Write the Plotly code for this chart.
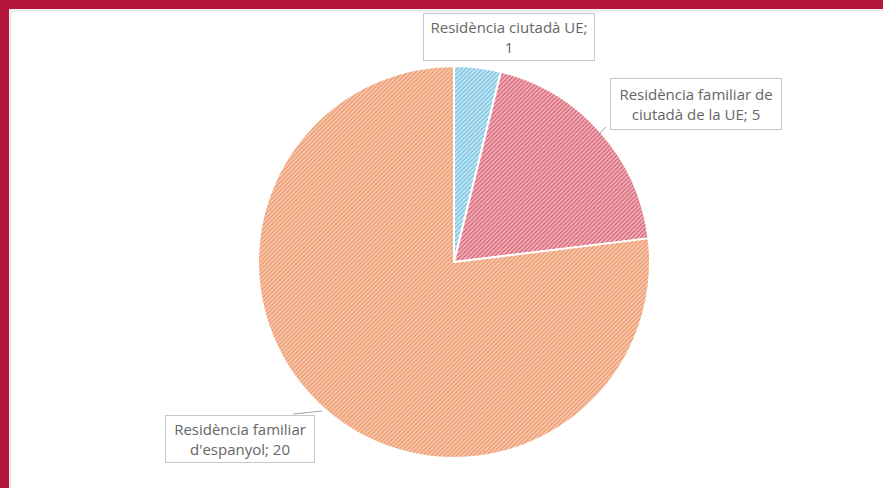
import plotly.graph_objects as go

categories = ["Residència ciutadà UE", "Residència familiar de ciutadà de la UE", "Residència familiar d'espanyol"]
values = [1, 5, 20]
label_texts = ["Residència ciutadà UE;<br>1", "Residència familiar de<br>ciutadà de la UE; 5", "Residència familiar<br>d'espanyol; 20"]

fg_colors = ["#6fbedf", "#d75a6e", "#ec9464"]
bg_colors = ["#c8e8f5", "#f0b5bd", "#f7c9b0"]

W, H = 883, 488

def px(x):
    return x / W

def py(y):
    return 1 - y / H

fig = go.Figure()
fig.add_trace(go.Pie(
    labels=categories,
    values=values,
    sort=False,
    direction="clockwise",
    rotation=0,
    textinfo="none",
    hoverinfo="label+value",
    marker=dict(
        colors=bg_colors,
        line=dict(color="white", width=2),
        pattern=dict(shape="/", fgcolor=fg_colors, bgcolor=bg_colors, size=3, solidity=0.4),
    ),
    domain=dict(x=[px(258), px(650)], y=[py(458), py(66)]),
    showlegend=False,
))

shapes = [
    # faint inner shadow
    dict(type="line", xref="paper", yref="paper", x0=px(9), x1=1, y0=py(10.5), y1=py(10.5),
         line=dict(color="#e6e6e6", width=2), layer="above"),
    dict(type="line", xref="paper", yref="paper", x0=px(10.5), x1=px(10.5), y0=0, y1=py(9),
         line=dict(color="#e6e6e6", width=2), layer="above"),
    dict(type="rect", xref="paper", yref="paper", x0=0, x1=1, y0=py(9), y1=1,
         fillcolor="#b5173b", line=dict(width=0), layer="above"),
    dict(type="rect", xref="paper", yref="paper", x0=0, x1=px(9), y0=0, y1=1,
         fillcolor="#b5173b", line=dict(width=0), layer="above"),
    # leader lines
    dict(type="line", xref="paper", yref="paper", x0=px(606), y0=py(127), x1=px(596), y1=py(137),
         line=dict(color="#a6a6a6", width=1)),
    dict(type="line", xref="paper", yref="paper", x0=px(293), y0=py(414), x1=px(322), y1=py(411),
         line=dict(color="#a6a6a6", width=1)),
]

boxes = [
    # (center x, center y, width, height)
    (509, 37, 170, 46),
    (696, 104, 170, 50),
    (240, 439, 148, 46),
]

annotations = []
for t, (cx, cy, bw, bh) in zip(label_texts, boxes):
    annotations.append(dict(
        x=px(cx), y=py(cy), xref="paper", yref="paper", xanchor="center", yanchor="middle",
        text=t, showarrow=False, align="center",
        font=dict(family="Open Sans", size=15, color="#666666"),
        bgcolor="white", bordercolor="#c8c8c8", borderwidth=1, borderpad=0,
        width=bw, height=bh,
    ))

fig.update_layout(
    width=W, height=H,
    margin=dict(l=0, r=0, t=0, b=0),
    paper_bgcolor="white",
    plot_bgcolor="white",
    shapes=shapes,
    annotations=annotations,
)

fig.write_html("out.html", config={"displayModeBar": False},
               post_script="document.body.style.margin='0';")
